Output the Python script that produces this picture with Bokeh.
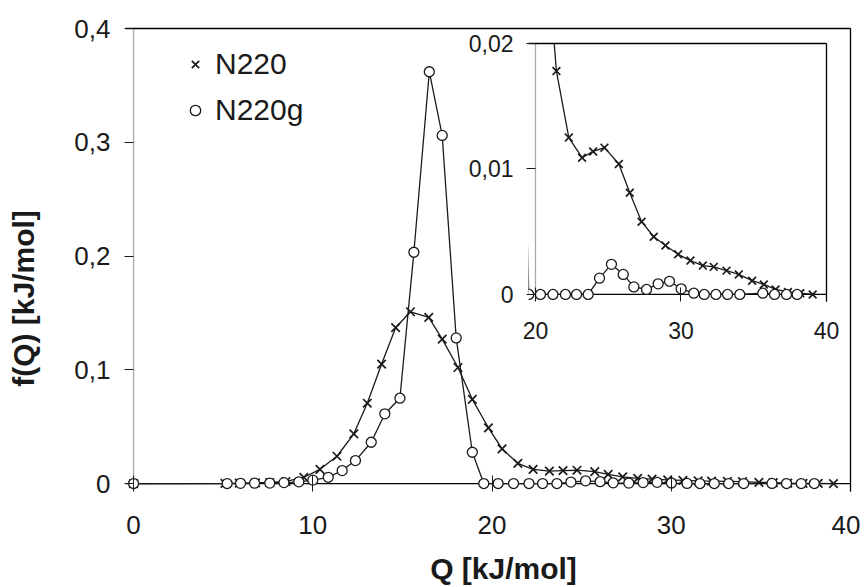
import math
from bokeh.plotting import figure
from bokeh.layouts import column
from bokeh.models import (FixedTicker, LinearAxis, Span, Label, Legend, LegendItem,
                          Range1d)
from bokeh.embed import file_html
from bokeh.resources import INLINE

# ---------------- data ----------------
n220_q = [0, 5.1, 5.9, 6.8, 7.6, 8.5, 9.5, 10.4, 11.35, 12.29, 13.04, 13.84, 14.62,
          15.45, 16.47, 17.22, 18.1, 18.9, 19.8, 20.56, 21.44, 22.29, 23.2, 23.96,
          24.74, 25.73, 26.48, 27.29, 28.13, 28.93, 29.8, 30.65, 31.5, 32.25, 33.13,
          33.97, 34.89, 35.69, 36.5, 37.35, 38.2, 39.05]
n220_f = [0, 0.0002, 0.0003, 0.0005, 0.0009, 0.0018, 0.0055, 0.0125, 0.024, 0.0437,
          0.0706, 0.105, 0.137, 0.151, 0.146, 0.127, 0.102, 0.074, 0.049, 0.0305,
          0.0178, 0.0125, 0.0109, 0.0114, 0.0117, 0.0104, 0.0081, 0.0058, 0.0046,
          0.0039, 0.0032, 0.0027, 0.0023, 0.0022, 0.0019, 0.0016, 0.0011, 0.0008,
          0.0004, 0.0002, 0.0001, 0.0]

n220g_q = [0, 5.22, 5.97, 6.75, 7.6, 8.39, 9.22, 10.0, 10.86, 11.64, 12.38, 13.26,
           14.02, 14.86, 15.64, 16.5, 17.22, 18.0, 18.9, 19.54, 20.34, 21.2, 22.06,
           22.82, 23.62, 24.4, 25.22, 26.03, 26.76, 27.63, 28.43, 29.21, 30.01, 30.88,
           31.6, 32.4, 33.2, 34.04, 35.62, 36.43, 37.25, 37.98]
n220g_f = [0, 0.0, 0.0002, 0.0003, 0.0004, 0.0008, 0.0015, 0.003, 0.0055, 0.0114,
           0.0202, 0.0363, 0.0613, 0.075, 0.2033, 0.362, 0.306, 0.128, 0.0275, 0.0,
           0.0, 0.0, 0.0, 0.0, 0.0, 0.0013, 0.0024, 0.0016, 0.0006, 0.0004, 0.00085,
           0.00105, 0.00045, 0.0001, 0.0, 0.0, 0.0, 0.0, 0.0001, 0.0, 0.0, 0.0]

series_names = ["N220", "N220g"]

main_x_ticks = [0, 10, 20, 30, 40]
main_y_ticks = [0, 0.1, 0.2, 0.3, 0.4]
main_y_labels = ["0", "0,1", "0,2", "0,3", "0,4"]
inset_x_ticks = [20, 30, 40]
inset_y_ticks = [0, 0.01, 0.02]
inset_y_labels = ["0", "0,01", "0,02"]

x_title = "Q [kJ/mol]"
y_title = "f(Q) [kJ/mol]"

# ---------------- style ----------------
FONT = "Liberation Sans"
INK = "#1a1a1a"
W, H = 860, 586


def overrides(ticks, labels):
    d = {}
    for t, lab in zip(ticks, labels):
        d[t] = lab
        d[str(t)] = lab
    return d


def frame_axes(fig):
    for side in ("above", "right"):
        ax = LinearAxis(ticker=FixedTicker(ticks=[]), axis_line_color="black",
                        axis_line_width=1.3, major_label_text_font_size="0px",
                        major_tick_line_color=None, minor_tick_line_color=None)
        fig.add_layout(ax, side)


def style_axis(ax, ticks, size, t_in, t_out, standoff, labels=None):
    ax.ticker = FixedTicker(ticks=ticks)
    if labels is not None:
        ax.major_label_overrides = overrides(ticks, labels)
    ax.axis_line_color = None
    ax.major_tick_in = t_in
    ax.major_tick_out = t_out
    ax.major_tick_line_color = INK
    ax.minor_tick_line_color = None
    ax.major_label_text_font = FONT
    ax.major_label_text_font_size = size
    ax.major_label_text_color = INK
    ax.major_label_standoff = standoff


def draw_series(fig, xsz, osz):
    fig.line(n220_q, n220_f, line_color=INK, line_width=1.3)
    fig.line(n220g_q, n220g_f, line_color=INK, line_width=1.3)
    rx = fig.scatter(n220_q, n220_f, marker="x", size=xsz, line_color=INK,
                     line_width=1.7)
    ro = fig.scatter(n220g_q, n220g_f, marker="circle", size=osz, fill_color="white",
                     line_color=INK, line_width=1.3)
    return rx, ro


# ---------------- main chart ----------------
p = figure(width=W, height=H, x_range=Range1d(-0.45, 40), y_range=Range1d(-0.007, 0.4),
           output_backend="svg", toolbar_location=None,
           min_border_left=125, min_border_right=10, min_border_top=28,
           min_border_bottom=H - 491)
p.frame_align = False
p.xgrid.visible = False
p.ygrid.visible = False
p.outline_line_color = None

style_axis(p.xaxis[0], main_x_ticks, "26px", 16, 0, 24)
style_axis(p.yaxis[0], main_y_ticks, "26px", 8, 1, 14, main_y_labels)

frame_axes(p)
p.add_layout(Span(location=0, dimension="width", line_color="black", line_width=1.3,
                  level="underlay"))
p.add_layout(Span(location=0, dimension="height", line_color="#555555", line_width=1.3,
                  line_dash="1 1", level="underlay"))

rx, ro = draw_series(p, 12, 10)

legend = Legend(items=[LegendItem(label=series_names[0], renderers=[rx]),
                       LegendItem(label=series_names[1], renderers=[ro])],
                location=(57, 364), orientation="vertical", padding=0, margin=0,
                spacing=12, glyph_width=26, glyph_height=30, label_height=30,
                label_standoff=7, label_text_font=FONT, label_text_font_size="30px",
                label_text_color=INK, border_line_color=None, background_fill_alpha=0)
p.add_layout(legend)

# ---------------- inset (overlaid on the main chart) ----------------
ins = figure(width=W, height=H, x_range=Range1d(19.52, 40),
             y_range=Range1d(-0.00056, 0.02),
             output_backend="svg", toolbar_location=None,
             min_border_left=528, min_border_right=W - 826, min_border_top=43,
             min_border_bottom=H - 301)
ins.frame_align = False
ins.background_fill_alpha = 0
ins.border_fill_alpha = 0
ins.outline_line_color = None
ins.xgrid.visible = False
ins.ygrid.visible = False
ins.margin = (-H, 0, 0, 0)

style_axis(ins.xaxis[0], inset_x_ticks, "23px", 14, 0, 20)
style_axis(ins.yaxis[0], inset_y_ticks, "23px", 7, 2, 13, inset_y_labels)

frame_axes(ins)
ins.add_layout(Span(location=0, dimension="width", line_color="black", line_width=1.3,
                    level="underlay"))
ins.add_layout(Span(location=20, dimension="height", line_color="#555555",
                    line_width=1.3, line_dash="1 1", level="underlay"))

draw_series(ins, 11, 10)

# ---------------- transparent layer holding the axis titles ----------------
ttl = figure(width=W, height=H, x_range=Range1d(0, 1), y_range=Range1d(0, 1),
             x_axis_type=None, y_axis_type=None, output_backend="svg",
             toolbar_location=None, min_border=0)
ttl.frame_align = False
ttl.background_fill_alpha = 0
ttl.border_fill_alpha = 0
ttl.outline_line_color = None
ttl.margin = (-H, 0, 0, 0)
ttl.add_layout(Label(x=23, y=H - 298, x_units="screen", y_units="screen",
                     angle=math.pi / 2, text=y_title, text_font=FONT,
                     text_font_size="30px", text_font_style="bold",
                     text_align="center", text_baseline="middle", text_color=INK))
ttl.add_layout(Label(x=503, y=H - 568, x_units="screen", y_units="screen",
                     text=x_title, text_font=FONT,
                     text_font_size="30px", text_font_style="bold",
                     text_align="center", text_baseline="middle", text_color=INK))

layout = column(p, ins, ttl)

open("out.html", "w").write(file_html(layout, INLINE))
